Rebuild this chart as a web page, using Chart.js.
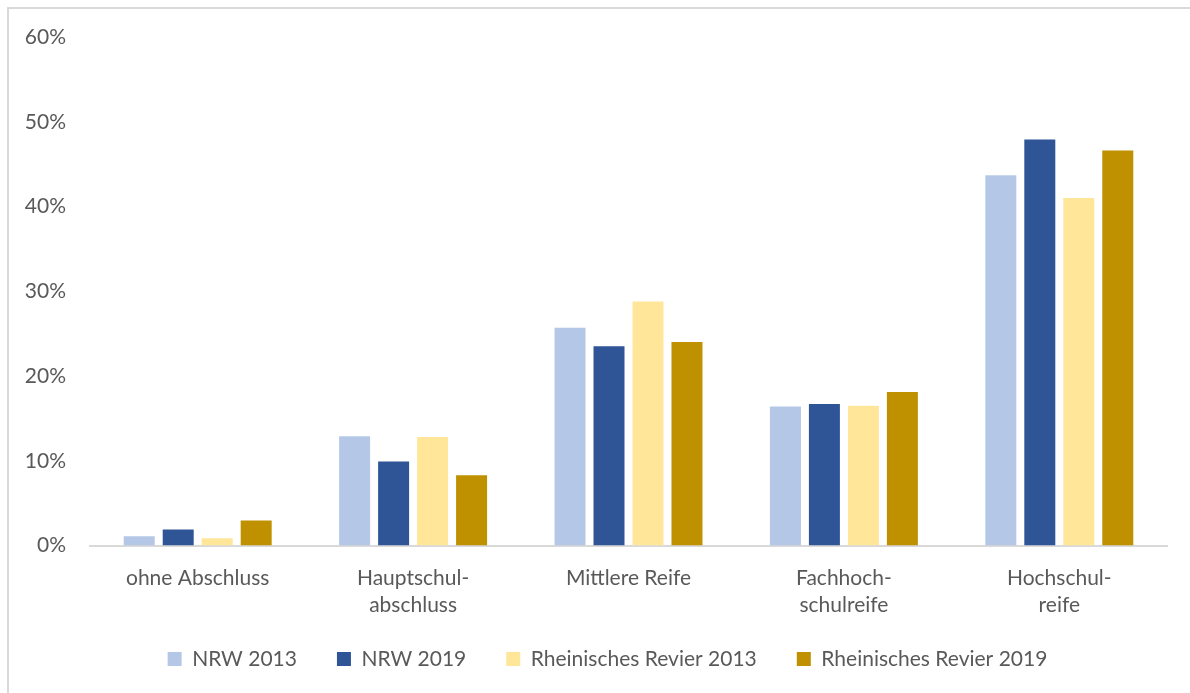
<!DOCTYPE html>
<html>
<head>
<meta charset="utf-8">
<script src="https://cdn.jsdelivr.net/npm/chart.js@4.4.1/dist/chart.umd.min.js"></script>
<style>
  html, body { margin: 0; padding: 0; background: #fff; }
  #wrap { position: relative; width: 1190px; height: 693px; overflow: hidden; }
  #frame { position: absolute; left: 7px; top: 7px; width: 1200px; height: 700px;
           border-left: 2px solid #D9D9D9; border-top: 2px solid #D9D9D9; box-sizing: border-box; }
  canvas { position: absolute; left: 0; top: 0; }
</style>
</head>
<body>
<div id="wrap">
  <div id="frame"></div>
  <canvas id="c" width="1190" height="693"></canvas>
</div>
<script>
const categories = ["ohne Abschluss", ["Hauptschul-", "abschluss"], "Mittlere Reife", ["Fachhoch-", "schulreife"], ["Hochschul-", "reife"]];
const seriesNames = ["NRW 2013", "NRW 2019", "Rheinisches Revier 2013", "Rheinisches Revier 2019"];
const nrw2013 = [1.1, 12.9, 25.7, 16.4, 43.7];
const nrw2019 = [1.9, 9.9, 23.5, 16.7, 47.9];
const rr2013 = [0.85, 12.8, 28.8, 16.5, 41.0];
const rr2019 = [2.95, 8.3, 24.0, 18.1, 46.6];
const yTicks = [0, 10, 20, 30, 40, 50, 60];

const colors = ["#B4C7E7", "#2F5597", "#FFE699", "#BF9000"];
const seriesValues = [nrw2013, nrw2019, rr2013, rr2019];
const FONT = "Lato, 'Liberation Sans', sans-serif";
const TEXT = "#595959";

const legendPlace = {
  id: "legendPlace",
  afterLayout(chart) {
    const lg = chart.legend;
    if (!lg) return;
    lg.left = 48; lg.right = 1167; lg.width = lg.right - lg.left;
    lg.top = 608.5; lg.bottom = 693; lg.height = lg.bottom - lg.top;
  }
};

new Chart(document.getElementById("c"), {
  type: "bar",
  data: {
    labels: categories,
    datasets: seriesValues.map((vals, i) => ({
      label: seriesNames[i],
      data: vals,
      backgroundColor: colors[i],
      borderWidth: 0,
      barPercentage: 0.795,
      categoryPercentage: 0.724
    }))
  },
  plugins: [legendPlace],
  options: {
    responsive: false,
    animation: false,
    devicePixelRatio: 1,
    layout: { padding: { left: 0, right: 23, top: 37, bottom: 14.5 } },
    plugins: {
      tooltip: { enabled: false },
      legend: {
        position: "bottom",
        maxHeight: 50,
        labels: {
          boxWidth: 14, boxHeight: 14, padding: 40,
          color: TEXT,
          font: { family: FONT, size: 21 }
        }
      }
    },
    scales: {
      x: {
        grid: { display: false, drawTicks: false },
        border: { display: true, color: "#D9D9D9", width: 2 },
        ticks: {
          color: TEXT, font: { family: FONT, size: 21, lineHeight: "27px" },
          padding: 19, autoSkip: false, maxRotation: 0
        },
        afterFit: (s) => { s.height = 83; }
      },
      y: {
        min: 0, max: 60,
        afterBuildTicks: (s) => { s.ticks = yTicks.map(v => ({ value: v })); },
        grid: { display: false, drawTicks: false },
        border: { display: false },
        ticks: {
          color: TEXT, font: { family: FONT, size: 21 },
          padding: 24,
          callback: (v) => v + "%"
        },
        afterFit: (s) => { s.width = 90; }
      }
    }
  }
});
</script>
</body>
</html>
